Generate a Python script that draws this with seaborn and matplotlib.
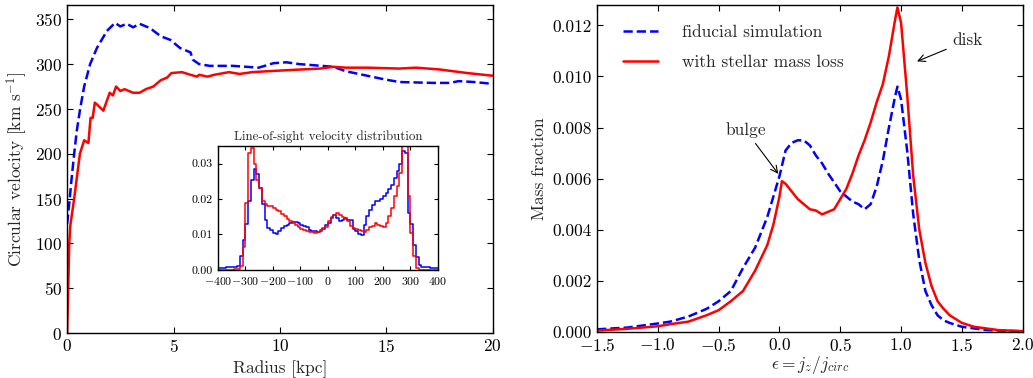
import numpy as np
import pandas as pd
import seaborn as sns
import matplotlib
matplotlib.use("Agg")
import matplotlib.pyplot as plt

# --- rotation curves (left panel) ---
r_fid = [0, 0.1, 0.2, 0.33, 0.45, 0.61, 0.8, 1.08, 1.4, 1.87, 2.25, 2.5, 2.8, 3.1, 3.4,
         3.9, 4.4, 4.85, 5.3, 5.8, 5.9, 6.2, 6.7, 7.8, 9.0, 9.7, 10.3, 10.9, 12.5, 13.1,
         14.1, 14.9, 15.6, 17.2, 18.0, 18.4, 19.1, 20.0]
v_fid = [122, 145, 170, 200, 225, 250, 275, 300, 318, 337, 346, 342, 345, 341, 345,
         340, 331, 327, 318, 313, 305, 300, 298, 298, 296, 301, 302, 300, 297, 292,
         287, 283, 280, 279, 279, 281, 280, 278]
r_loss = [0, 0.05, 0.1, 0.15, 0.33, 0.6, 0.8, 1.0, 1.1, 1.2, 1.3, 1.4, 1.7, 2.0, 2.15, 2.3,
          2.5, 2.7, 3.1, 3.4, 3.7, 4.05, 4.4, 4.7, 4.9, 5.4, 5.8, 6.1, 6.2, 6.6, 6.9,
          7.6, 8.1, 8.7, 9.4, 10.2, 11.0, 11.9, 12.5, 13.1, 14.1, 15.6, 16.4, 17.5,
          18.8, 20.0]
v_loss = [0, 50, 100, 120, 150, 200, 215, 212, 240, 240, 257, 255, 248, 268, 265, 275,
          270, 272, 268, 268, 272, 275, 282, 285, 290, 291, 288, 286, 288, 286, 288,
          291, 289, 291, 292, 293, 294, 295, 297, 296, 296, 295, 296, 294,
          290, 287]

# --- line-of-sight velocity distribution (inset), 10 km/s bins from -400 to 400 ---
los_edges = list(range(-400, 401, 10))
los_fid = [0.0006, 0.0006, 0.0006, 0.0007, 0.0007, 0.0008, 0.0009, 0.001,   # -400..-330
           0.004, 0.0085, 0.013, 0.0195, 0.0255, 0.0284, 0.027, 0.0232,      # -320..-250
           0.0185, 0.0142, 0.0118, 0.0113, 0.0104, 0.010, 0.011, 0.0118,     # -240..-170
           0.0125, 0.0127, 0.0132, 0.0136, 0.0136, 0.0132, 0.0128, 0.0124,   # -160..-90
           0.012, 0.0113, 0.0111, 0.0109, 0.0106, 0.0109, 0.0115, 0.0128,    # -80..-10
           0.0132, 0.0147, 0.0156, 0.0147, 0.0137, 0.0142, 0.0147, 0.0142,   # 0..70
           0.0142, 0.0115, 0.0109, 0.0102, 0.0099, 0.0128, 0.0151, 0.0168,   # 80..150
           0.0182, 0.0194, 0.0194, 0.0199, 0.0208, 0.0218, 0.0227, 0.0241,   # 160..230
           0.026, 0.028, 0.030, 0.0336, 0.033, 0.016, 0.013, 0.007,          # 240..310
           0.0036, 0.0015, 0.0008, 0.0007, 0.0007, 0.0006, 0.0006, 0.0006]   # 320..390
los_loss = [0.0001, 0.0001, 0.0001, 0.0001, 0.0001, 0.0001, 0.0002, 0.0002,
            0.001, 0.0065, 0.019, 0.033, 0.0343, 0.030, 0.0255, 0.0232,
            0.0195, 0.0185, 0.018, 0.018, 0.0175, 0.017, 0.0166, 0.0159,
            0.0151, 0.0145, 0.0137, 0.0132, 0.0126, 0.0121, 0.0115, 0.0112,
            0.011, 0.0108, 0.0106, 0.0104, 0.0107, 0.0113, 0.0118, 0.0121,
            0.0137, 0.015, 0.0156, 0.016, 0.0156, 0.015, 0.0144, 0.0137,
            0.0125, 0.0118, 0.0115, 0.0112, 0.0109, 0.0106, 0.0114, 0.0121,
            0.0125, 0.0132, 0.0128, 0.0123, 0.0121, 0.0132, 0.0151, 0.0175,
            0.0208, 0.0237, 0.0274, 0.036, 0.036, 0.0208, 0.0104, 0.004,
            0.0005, 0.0001, 0.0, 0.0, 0.0, 0.0, 0.0, 0.0]

# --- circularity distribution (right panel) ---
eps_fid = [-1.5, -1.25, -1.0, -0.9, -0.75, -0.6, -0.5, -0.4, -0.3, -0.2, -0.1, -0.05,
           0.0, 0.05, 0.1, 0.15, 0.2, 0.25, 0.3, 0.35, 0.4, 0.5, 0.6, 0.65, 0.7, 0.75,
           0.8, 0.85, 0.9, 0.95, 0.97, 1.0, 1.05, 1.1, 1.15, 1.2, 1.25, 1.3, 1.35, 1.4,
           1.5, 1.7, 2.0]
mf_fid = [0.0001, 0.00017, 0.00033, 0.0004, 0.0006, 0.0009, 0.0012, 0.0016, 0.0025,
          0.0033, 0.0045, 0.0053, 0.0061, 0.0071, 0.0074, 0.0075, 0.0075, 0.0073,
          0.0069, 0.0066, 0.0062, 0.0055, 0.0051, 0.0050, 0.0048, 0.0050, 0.0057,
          0.0067, 0.0080, 0.0092, 0.0096, 0.0091, 0.0071, 0.0046, 0.0028, 0.0016,
          0.00105, 0.00065, 0.00045, 0.00035, 0.0002, 0.00007, 0.00002]
eps_loss = [-1.5, -1.25, -1.0, -0.9, -0.75, -0.6, -0.5, -0.4, -0.3, -0.2, -0.1, -0.05,
            0.0, 0.02, 0.05, 0.1, 0.15, 0.2, 0.25, 0.3, 0.35, 0.4, 0.45, 0.5, 0.55,
            0.6, 0.65, 0.7, 0.75, 0.8, 0.85, 0.9, 0.95, 0.97, 1.0, 1.05, 1.1, 1.15,
            1.2, 1.25, 1.3, 1.35, 1.4, 1.5, 1.6, 1.8, 2.0]
mf_loss = [0.00005, 0.00012, 0.00022, 0.0003, 0.0004, 0.00065, 0.00085, 0.0012,
           0.0016, 0.0024, 0.0034, 0.0042, 0.0053, 0.0059, 0.0058, 0.0055, 0.0052,
           0.0050, 0.0048, 0.00475, 0.0046, 0.0047, 0.0048, 0.0052, 0.0056, 0.0062,
           0.0069, 0.0075, 0.0082, 0.0090, 0.0097, 0.0108, 0.0122, 0.0127, 0.0121,
           0.0093, 0.0061, 0.0040, 0.0027, 0.0018, 0.0012, 0.0009, 0.00065, 0.00035,
           0.0002, 0.00007, 0.00003]

sns.set_style("ticks")
plt.rcParams["font.family"] = ["serif"]
plt.rcParams["font.serif"] = ["cmr10", "DejaVu Serif"]
plt.rcParams["mathtext.fontset"] = "cm"
plt.rcParams["axes.formatter.use_mathtext"] = True
plt.rcParams["xtick.direction"] = "in"
plt.rcParams["ytick.direction"] = "in"
plt.rcParams["xtick.top"] = True
plt.rcParams["ytick.right"] = True
plt.rcParams["axes.edgecolor"] = "black"
plt.rcParams["axes.linewidth"] = 1.0
plt.rcParams["xtick.color"] = "black"
plt.rcParams["ytick.color"] = "black"

fs = 12.5
fig = plt.figure(figsize=(10.33, 3.78), dpi=100)
ax1 = fig.add_axes([0.065, 0.119, 0.412, 0.868])
ax2 = fig.add_axes([0.578, 0.122, 0.412, 0.865])

# left: circular velocity
sns.lineplot(x=r_fid, y=v_fid, ax=ax1, color="blue", linestyle="--", linewidth=1.8,
             sort=False)
sns.lineplot(x=r_loss, y=v_loss, ax=ax1, color="red", linewidth=1.8, sort=False)
ax1.set_xlim(0, 20)
ax1.set_ylim(0, 366)
ax1.set_xticks([0, 5, 10, 15, 20])
ax1.set_yticks(range(0, 351, 50))
ax1.set_xlabel("Radius [kpc]", fontsize=fs)
ax1.set_ylabel(r"Circular velocity [km s$^{-1}$]", fontsize=fs)
ax1.tick_params(labelsize=fs, length=4.5)

# inset
axi = fig.add_axes([0.211, 0.286, 0.213, 0.328])
centers = [e + 5 for e in los_edges[:-1]]
sns.histplot(x=centers, weights=los_fid, bins=los_edges, element="step", fill=False,
             color="blue", linewidth=1.1, ax=axi)
sns.histplot(x=centers, weights=los_loss, bins=los_edges, element="step", fill=False,
             color="red", linewidth=1.1, ax=axi)
axi.set_xlim(-400, 400)
axi.set_ylim(0, 0.035)
axi.set_xticks(range(-400, 401, 100))
axi.set_yticks([0.0, 0.01, 0.02, 0.03])
axi.set_yticklabels(["0.00", "0.01", "0.02", "0.03"])
axi.set_xlabel("")
axi.set_ylabel("")
axi.set_title("Line-of-sight velocity distribution", fontsize=9.3, pad=4)
axi.tick_params(labelsize=8.5, length=3)

# right: circularity
sns.lineplot(x=eps_fid, y=mf_fid, ax=ax2, color="blue", linestyle="--", linewidth=1.8,
             label="fiducial simulation", sort=False)
sns.lineplot(x=eps_loss, y=mf_loss, ax=ax2, color="red", linewidth=1.8,
             label="with stellar mass loss", sort=False)
ax2.set_xlim(-1.5, 2.0)
ax2.set_ylim(0, 0.0128)
ax2.set_xticks(np.arange(-1.5, 2.01, 0.5))
ax2.set_yticks(np.arange(0, 0.0121, 0.002))
ax2.set_yticklabels(["0.000", "0.002", "0.004", "0.006", "0.008", "0.010", "0.012"])
ax2.set_xlabel(r"$\epsilon = j_z/j_{circ}$", fontsize=fs, labelpad=0)
ax2.set_ylabel("Mass fraction", fontsize=fs)
ax2.tick_params(labelsize=fs, length=4.5)
ax2.legend(loc="upper left", bbox_to_anchor=(0.045, 0.96), frameon=False, fontsize=fs,
           handlelength=2.0, handletextpad=1.4, labelspacing=0.85, borderaxespad=0)

ax2.annotate("disk", xy=(1.11, 0.01055), xytext=(1.42, 0.0114), fontsize=fs,
             ha="left", va="center",
             arrowprops=dict(arrowstyle="->", color="black", lw=0.8))
ax2.annotate("bulge", xy=(0.004, 0.0061), xytext=(-0.28, 0.0079), fontsize=fs,
             ha="center", va="center",
             arrowprops=dict(arrowstyle="->", color="black", lw=0.8))

fig.savefig("out.png", dpi=100)
